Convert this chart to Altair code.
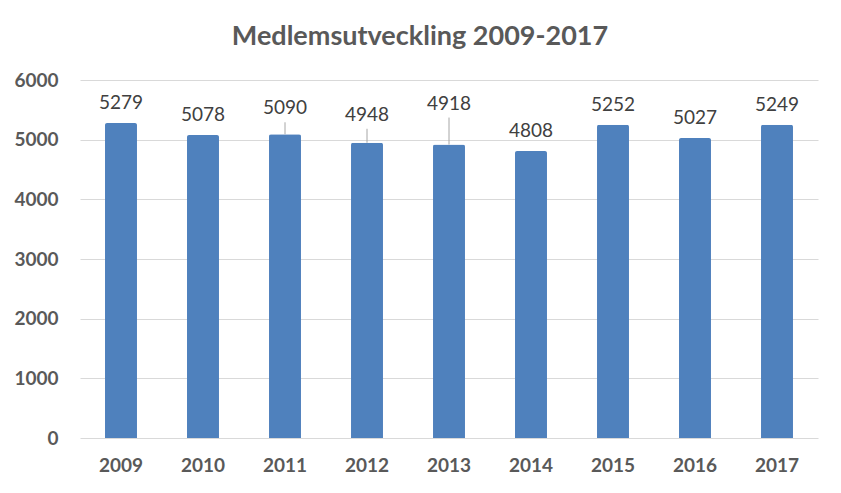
import altair as alt
import pandas as pd

years = ["2009", "2010", "2011", "2012", "2013", "2014", "2015", "2016", "2017"]
members = [5279, 5078, 5090, 4948, 4918, 4808, 5252, 5027, 5249]
y_ticks = [0, 1000, 2000, 3000, 4000, 5000, 6000]

# labels moved by hand in the original (pixel offsets) and default offset
default_dy = -14
moved_dy = {"2011": -20, "2012": -22, "2013": -35}

df = pd.DataFrame({"year": years, "members": members})

FONT = "Lato"
BLUE = "#4F81BD"

x = alt.X("year:N", sort=years, title=None,
          scale=alt.Scale(paddingInner=0.61, paddingOuter=0.305),
          axis=alt.Axis(labelAngle=0, labelFont=FONT, labelFontSize=19,
                        labelFontWeight="bold", labelColor="#595959",
                        labelPadding=18, ticks=False, domain=False, grid=False))
y = alt.Y("members:Q", title=None,
          scale=alt.Scale(domain=[0, 6000], nice=False),
          axis=alt.Axis(values=y_ticks, format="d", labelFont=FONT, labelFontSize=19,
                        labelFontWeight="bold", labelColor="#595959",
                        labelPadding=22, ticks=False, domain=False,
                        grid=True, gridColor="#d9d9d9", gridWidth=1))

base = alt.Chart(df)

bars = base.mark_bar(color=BLUE, cornerRadiusTopLeft=2, cornerRadiusTopRight=2).encode(x=x, y=y)

layers = [bars]

default_years = [yr for yr in years if yr not in moved_dy]
layers.append(
    base.transform_filter(alt.FieldOneOfPredicate(field="year", oneOf=default_years))
    .mark_text(font=FONT, fontSize=19, color="#404040", align="center",
               baseline="alphabetic", dy=default_dy)
    .encode(x=alt.X("year:N", sort=years), y="members:Q", text="members:Q")
)

for yr, dy in moved_dy.items():
    sub = base.transform_filter(alt.datum.year == yr)
    layers.append(
        sub.mark_rule(color="#a6a6a6", strokeWidth=1, yOffset=dy + 8, y2Offset=0)
        .encode(x=alt.X("year:N", sort=years), y="members:Q", y2="members:Q")
    )
    layers.append(
        sub.mark_text(font=FONT, fontSize=19, color="#404040", align="center",
                      baseline="alphabetic", dy=dy)
        .encode(x=alt.X("year:N", sort=years), y="members:Q", text="members:Q")
    )

chart = alt.layer(*layers).properties(
    width=738,
    height=358,
    title=alt.TitleParams("Medlemsutveckling 2009-2017", font=FONT, fontSize=27,
                          fontWeight="bold", color="#595959", anchor="middle",
                          dx=-29, dy=35, offset=34, baseline="alphabetic"),
    autosize=alt.AutoSizeParams(type="none"),
    padding={"left": 72, "top": 72, "right": 15, "bottom": 47},
    background="white",
).configure_view(stroke=None)

chart.save("out.html", embed_options={"renderer": "svg", "actions": False})
